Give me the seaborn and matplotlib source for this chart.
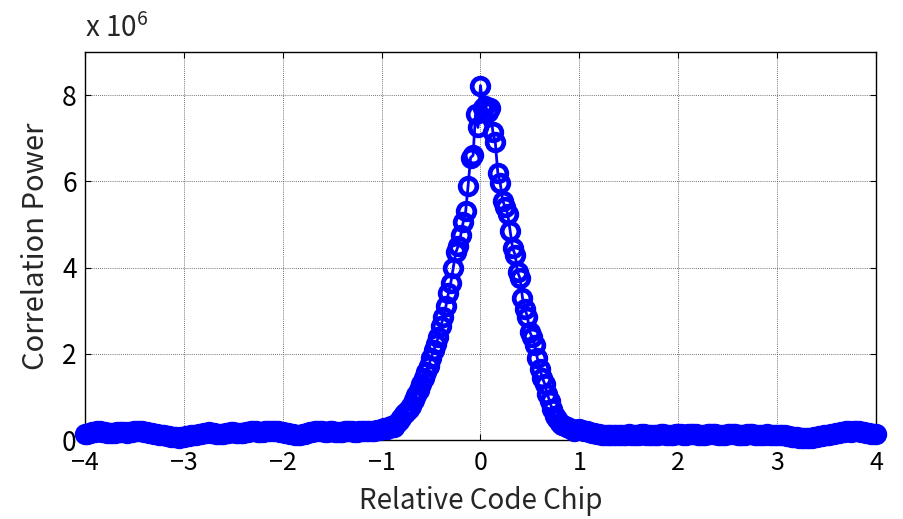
import matplotlib
matplotlib.use("Agg")
import matplotlib.pyplot as plt
import seaborn as sns
import numpy as np
import pandas as pd

# ---- data (correlation power in units of 1e6) ----
x_left = [-4.000, -3.975, -3.950, -3.925, -3.900, -3.875, -3.850, -3.825, -3.800, -3.775,
          -3.750, -3.725, -3.700, -3.675, -3.650, -3.625, -3.600, -3.575, -3.550, -3.525,
          -3.500, -3.475, -3.450, -3.425, -3.400, -3.375, -3.350, -3.325, -3.300, -3.275,
          -3.250, -3.225, -3.200, -3.175, -3.150, -3.125, -3.100, -3.075, -3.050, -3.025,
          -3.000, -2.975, -2.950, -2.925, -2.900, -2.875, -2.850, -2.825, -2.800, -2.775,
          -2.750, -2.725, -2.700, -2.675, -2.650, -2.625, -2.600, -2.575, -2.550, -2.525,
          -2.500, -2.475, -2.450, -2.425, -2.400, -2.375, -2.350, -2.325, -2.300, -2.275,
          -2.250, -2.225, -2.200, -2.175, -2.150, -2.125, -2.100, -2.075, -2.050, -2.025,
          -2.000, -1.975, -1.950, -1.925, -1.900, -1.875, -1.850, -1.825, -1.800, -1.775,
          -1.750, -1.725, -1.700, -1.675, -1.650, -1.625, -1.600, -1.575, -1.550, -1.525,
          -1.500, -1.475, -1.450, -1.425, -1.400, -1.375, -1.350, -1.325, -1.300, -1.275,
          -1.250, -1.225, -1.200, -1.175, -1.150, -1.125, -1.100, -1.075, -1.050, -1.025,
          -1.000]
y_left = [0.14, 0.15, 0.17, 0.18, 0.19, 0.20, 0.20, 0.19, 0.18, 0.17,
          0.16, 0.16, 0.17, 0.18, 0.19, 0.19, 0.18, 0.17, 0.18, 0.19,
          0.20, 0.21, 0.21, 0.20, 0.19, 0.18, 0.17, 0.16, 0.15, 0.14,
          0.13, 0.12, 0.11, 0.10, 0.09, 0.08, 0.07, 0.07, 0.06, 0.07,
          0.08, 0.09, 0.10, 0.11, 0.12, 0.13, 0.14, 0.15, 0.16, 0.17,
          0.18, 0.17, 0.16, 0.15, 0.14, 0.14, 0.15, 0.16, 0.17, 0.18,
          0.18, 0.17, 0.16, 0.16, 0.17, 0.18, 0.19, 0.20, 0.21, 0.20,
          0.19, 0.18, 0.19, 0.20, 0.21, 0.22, 0.22, 0.21, 0.20, 0.19,
          0.18, 0.17, 0.16, 0.15, 0.14, 0.13, 0.12, 0.13, 0.14, 0.15,
          0.17, 0.18, 0.19, 0.20, 0.21, 0.21, 0.20, 0.19, 0.19, 0.20,
          0.20, 0.19, 0.18, 0.18, 0.19, 0.20, 0.21, 0.21, 0.20, 0.19,
          0.19, 0.20, 0.21, 0.22, 0.22, 0.21, 0.21, 0.22, 0.23, 0.24,
          0.25]

x_peak = [-0.975, -0.950, -0.925, -0.900, -0.875, -0.850, -0.825, -0.800, -0.775, -0.750,
          -0.725, -0.700, -0.675, -0.650, -0.625, -0.600, -0.575, -0.550, -0.525, -0.500,
          -0.475, -0.450, -0.425, -0.400, -0.375, -0.350, -0.325, -0.300, -0.275, -0.250,
          -0.225, -0.200, -0.175, -0.150, -0.125, -0.100, -0.075, -0.050, -0.025, 0.000,
          0.025, 0.050, 0.075, 0.100, 0.125, 0.150, 0.175, 0.200, 0.225, 0.250,
          0.275, 0.300, 0.325, 0.350, 0.375, 0.400, 0.425, 0.450, 0.475, 0.500,
          0.525, 0.550, 0.575, 0.600, 0.625, 0.650, 0.675, 0.700, 0.725, 0.750,
          0.775, 0.800, 0.825, 0.850, 0.875, 0.900, 0.925, 0.950, 0.975]
y_peak = [0.27, 0.26, 0.30, 0.33, 0.30, 0.38, 0.45, 0.52, 0.60, 0.66,
          0.72, 0.80, 0.92, 1.05, 1.16, 1.30, 1.45, 1.58, 1.72, 1.90,
          2.08, 2.22, 2.40, 2.65, 2.85, 3.10, 3.40, 3.65, 4.00, 4.35,
          4.50, 4.75, 5.05, 5.30, 5.90, 6.55, 6.60, 7.55, 7.25, 8.22,
          7.70, 7.75, 7.60, 7.70, 7.15, 6.90, 6.20, 5.95, 5.55, 5.40,
          5.25, 4.85, 4.45, 4.30, 3.90, 3.75, 3.30, 3.05, 2.85, 2.50,
          2.38, 2.20, 1.90, 1.65, 1.45, 1.30, 1.08, 0.90, 0.72, 0.55,
          0.48, 0.40, 0.36, 0.33, 0.30, 0.27, 0.25, 0.22, 0.24]

x_right = [1.000, 1.025, 1.050, 1.075, 1.100, 1.125, 1.150, 1.175, 1.200, 1.225,
           1.250, 1.275, 1.300, 1.325, 1.350, 1.375, 1.400, 1.425, 1.450, 1.475,
           1.500, 1.525, 1.550, 1.575, 1.600, 1.625, 1.650, 1.675, 1.700, 1.725,
           1.750, 1.775, 1.800, 1.825, 1.850, 1.875, 1.900, 1.925, 1.950, 1.975,
           2.000, 2.025, 2.050, 2.075, 2.100, 2.125, 2.150, 2.175, 2.200, 2.225,
           2.250, 2.275, 2.300, 2.325, 2.350, 2.375, 2.400, 2.425, 2.450, 2.475,
           2.500, 2.525, 2.550, 2.575, 2.600, 2.625, 2.650, 2.675, 2.700, 2.725,
           2.750, 2.775, 2.800, 2.825, 2.850, 2.875, 2.900, 2.925, 2.950, 2.975,
           3.000, 3.025, 3.050, 3.075, 3.100, 3.125, 3.150, 3.175, 3.200, 3.225,
           3.250, 3.275, 3.300, 3.325, 3.350, 3.375, 3.400, 3.425, 3.450, 3.475,
           3.500, 3.525, 3.550, 3.575, 3.600, 3.625, 3.650, 3.675, 3.700, 3.725,
           3.750, 3.775, 3.800, 3.825, 3.850, 3.875, 3.900, 3.925, 3.950, 3.975,
           4.000]
y_right = [0.26, 0.24, 0.22, 0.20, 0.18, 0.17, 0.16, 0.15, 0.14, 0.13,
           0.12, 0.12, 0.11, 0.12, 0.13, 0.13, 0.12, 0.11, 0.12, 0.13,
           0.14, 0.13, 0.12, 0.12, 0.13, 0.14, 0.14, 0.13, 0.12, 0.11,
           0.11, 0.12, 0.13, 0.14, 0.14, 0.13, 0.12, 0.12, 0.13, 0.14,
           0.15, 0.14, 0.13, 0.13, 0.14, 0.15, 0.15, 0.14, 0.13, 0.12,
           0.12, 0.13, 0.14, 0.15, 0.15, 0.14, 0.13, 0.12, 0.12, 0.13,
           0.14, 0.15, 0.15, 0.14, 0.13, 0.12, 0.12, 0.13, 0.14, 0.15,
           0.14, 0.13, 0.12, 0.11, 0.12, 0.13, 0.14, 0.13, 0.12, 0.11,
           0.12, 0.13, 0.12, 0.11, 0.10, 0.09, 0.08, 0.07, 0.07, 0.06,
           0.06, 0.05, 0.05, 0.06, 0.06, 0.07, 0.08, 0.09, 0.10, 0.11,
           0.12, 0.13, 0.14, 0.15, 0.16, 0.17, 0.18, 0.19, 0.20, 0.20,
           0.19, 0.20, 0.21, 0.20, 0.19, 0.18, 0.17, 0.16, 0.15, 0.14,
           0.14]

xticks = [-4, -3, -2, -1, 0, 1, 2, 3, 4]
yticks = [0, 2, 4, 6, 8]
xlabel = "Relative Code Chip"
ylabel = "Correlation Power"
exponent_label = r"x 10$^{6}$"

df = pd.DataFrame({"chip": x_left + x_peak + x_right,
                   "power": y_left + y_peak + y_right})

sns.set_style("ticks")
plt.rcParams["font.family"] = ["Noto Sans CJK JP", "DejaVu Sans"]
plt.rcParams["mathtext.fontset"] = "custom"
plt.rcParams["mathtext.rm"] = "Noto Sans CJK JP"

fig = plt.figure(figsize=(9.04, 5.19), dpi=100)
ax = fig.add_axes([0.094, 0.152, 0.875, 0.748])

sns.lineplot(data=df, x="chip", y="power", ax=ax, sort=False, estimator=None,
             color="#0000ff", linewidth=2.0, marker="o", markersize=12,
             markerfacecolor="none", markeredgecolor="#0000ff",
             markeredgewidth=3.4, zorder=3, clip_on=False)

ax.set_xlim(-4, 4)
ax.set_ylim(0, 9)
ax.set_xticks(xticks)
ax.set_yticks(yticks)
ax.set_xticklabels([("\u2212" + str(-t)) if t < 0 else str(t) for t in xticks])
ax.set_yticklabels([str(t) for t in yticks])
ax.tick_params(direction="in", top=True, right=True, length=4, width=0.8,
               colors="black")
ax.tick_params(axis="x", labelsize=18, pad=7)
ax.tick_params(axis="y", labelsize=19, pad=6)
ax.grid(True, color="#444444", linestyle=(0, (1, 1.5)), linewidth=0.6)
for s in ax.spines.values():
    s.set_visible(True)
    s.set_color("black")
    s.set_linewidth(1.0)

ax.set_xlabel(xlabel, fontsize=20, labelpad=7)
ax.set_ylabel(ylabel, fontsize=21, labelpad=8)
ax.text(0.0, 1.02, exponent_label, transform=ax.transAxes, fontsize=20,
        ha="left", va="bottom")

fig.savefig("out.png", dpi=100)
